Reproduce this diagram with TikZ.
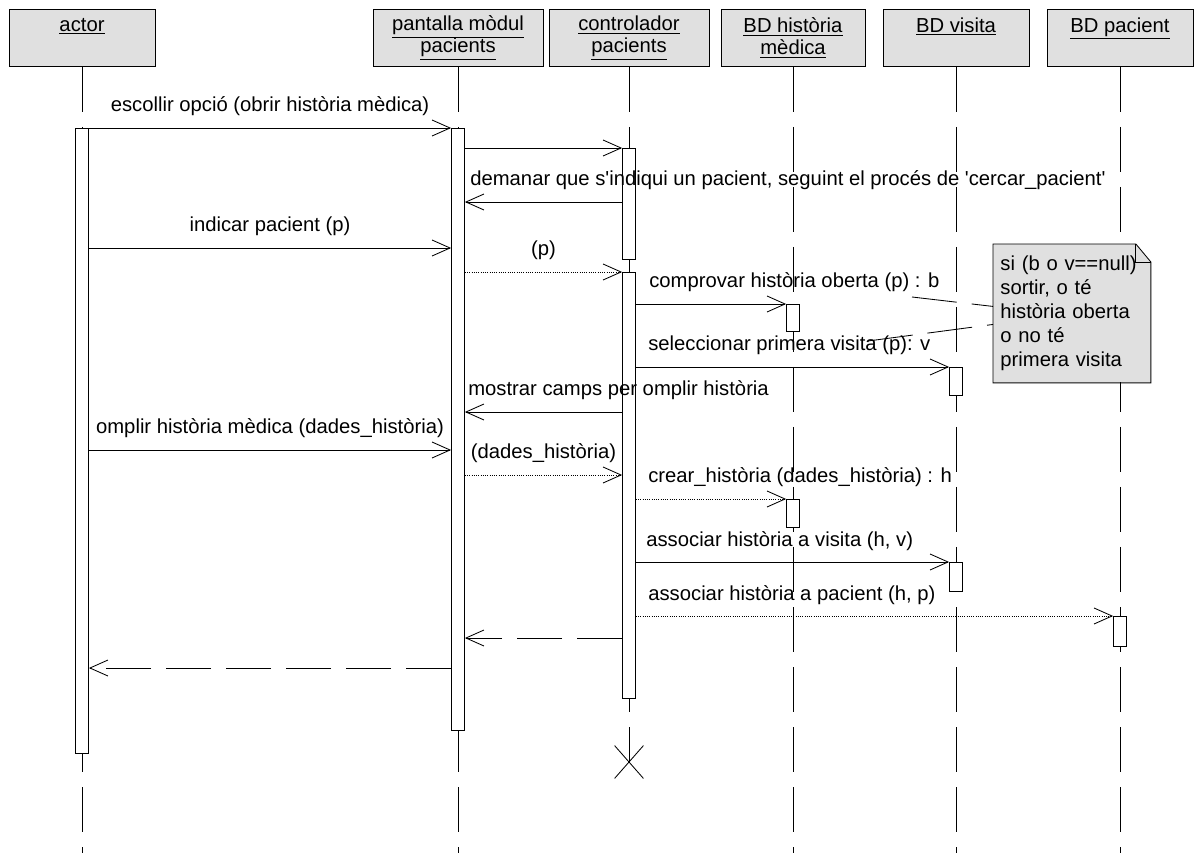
\documentclass[tikz,border=0pt]{standalone}
\usepackage{fontspec}
\setmainfont{Liberation Sans}
\usetikzlibrary{arrows.meta,positioning,shapes.misc}
\tikzstyle{Obj}=[shape=rectangle,draw=black,fill=black!12,align=center,anchor=north,minimum height=1.425cm,inner sep=2pt,font=\fontsize{14.4}{15.6}\selectfont]
\tikzstyle{Act}=[shape=rectangle,draw=black,fill=white,minimum width=0.325cm,anchor=north,inner sep=0pt]
\tikzstyle{life}=[dash pattern=on 1.125cm off 0.375cm]
\tikzstyle{call}=[-{Straight Barb[length=0.45cm,width=0.4cm]}]
\tikzstyle{dotcall}=[call,densely dotted]
\tikzstyle{ret}=[call,dash pattern=on 1.125cm off 0.375cm]
\tikzstyle{lab}=[anchor=base,yshift=0.4cm,inner sep=0pt,font=\fontsize{14.4}{17}\selectfont]
\tikzstyle{labL}=[lab,anchor=base west]

\begin{document}
\begin{tikzpicture}[x=0.025cm,y=-0.025cm,line width=0.6pt]
\useasboundingbox (0,0) rectangle (1201,853);

% objects
\node[Obj,minimum width=3.65cm] (actor) at (82,9) {\underline{actor}\\\phantom{p}};
\node[Obj,minimum width=4.25cm] (pant) at (458,9) {\underline{pantalla mòdul}\\\underline{pacients}};
\node[Obj,minimum width=4cm] (ctrl) at (629,9) {\underline{controlador}\\\underline{pacients}};
\node[Obj,minimum width=3.6cm] (hist) at (793,9) {\underline{BD història}\\\underline{mèdica}};
\node[Obj,minimum width=3.65cm] (vis) at (956,9) {\underline{BD visita}\\\phantom{p}};
\node[Obj,minimum width=3.65cm] (pac) at (1120,9) {\underline{BD pacient}\\\phantom{p}};

% message rows
\foreach \n/\y in {1/128,2/148,3/202,4/248,5/272,6/304,7/367,8/412,9/450,10/475,11/499,12/562,13/616,14/638,15/668,16/762}
  \coordinate (r\n) at (0,\y);
\coordinate (bot) at (0,853);

% lifelines
\foreach \o in {actor,pant,hist,vis,pac}
  \draw[life] (\o.south) -- (\o.south |- bot);
\node[cross out,draw,minimum width=0.7cm,minimum height=0.8cm,inner sep=0pt] (ctrlend) at (ctrl.south |- r16) {};
\draw[life] (ctrl.south) -- (ctrlend.center);

% activations
\node[Act,minimum height=15.625cm] (actbar) at (actor.south |- r1) {};
\node[Act,minimum height=15.05cm] (pantbar) at (pant.south |- r1) {};
\node[Act,minimum height=2.775cm] (ctrlbarA) at (ctrl.south |- r2) {};
\node[Act,minimum height=10.65cm] (ctrlbarB) at (ctrl.south |- r5) {};
\node[Act,minimum height=0.675cm] (histbarA) at (hist.south |- r6) {};
\node[Act,minimum height=0.7cm] (visbarA) at (vis.south |- r7) {};
\node[Act,minimum height=0.7cm] (histbarB) at (hist.south |- r11) {};
\node[Act,minimum height=0.725cm] (visbarB) at (vis.south |- r12) {};
\node[Act,minimum height=0.75cm] (pacbar) at (pac.south |- r13) {};

\path
(actbar.east |- r1) edge[call] node[lab] {escollir opció (obrir història mèdica)} (pantbar.west |- r1)
(pantbar.east |- r2) edge[call] (ctrlbarA.west |- r2)
(ctrlbarA.west |- r3) edge[call] node[labL,pos=1,xshift=0.125cm] {demanar que s\textquotesingle indiqui un pacient, seguint el procés de \textquotesingle cercar\_pacient\textquotesingle} (pantbar.east |- r3)
(actbar.east |- r4) edge[call] node[lab] {indicar pacient (p)} (pantbar.west |- r4)
(pantbar.east |- r5) edge[dotcall] node[lab] {(p)} (ctrlbarB.west |- r5)
(ctrlbarB.east |- r6) edge[call] node[labL,pos=0,xshift=0.325cm] {comprovar història oberta (p) : b} (histbarA.west |- r6)
(ctrlbarB.east |- r7) edge[call] node[labL,pos=0,xshift=0.3cm] {seleccionar primera visita (p): v} (visbarA.west |- r7)
(ctrlbarB.west |- r8) edge[call] node[labL,pos=1,xshift=0.075cm] {mostrar camps per omplir història} (pantbar.east |- r8)
(actbar.east |- r9) edge[call] node[lab] {omplir història mèdica (dades\_història)} (pantbar.west |- r9)
(pantbar.east |- r10) edge[dotcall] node[lab] {(dades\_història)} (ctrlbarB.west |- r10)
(ctrlbarB.east |- r11) edge[dotcall] node[labL,pos=0,xshift=0.3cm] {crear\_història (dades\_història) : h} (histbarB.west |- r11)
(ctrlbarB.east |- r12) edge[call] node[labL,pos=0,xshift=0.25cm] {associar història a visita (h, v)} (visbarB.west |- r12)
(ctrlbarB.east |- r13) edge[dotcall] node[labL,pos=0,xshift=0.3cm] {associar història a pacient (h, p)} (pacbar.west |- r13)
(ctrlbarB.west |- r14) edge[ret] (pantbar.east |- r14)
(pantbar.west |- r15) edge[ret] (actbar.east |- r15);

% note
\node[shape=rectangle,fill=black!12,anchor=north west,minimum width=3.925cm,minimum height=3.45cm,text width=3.575cm,align=left,inner xsep=0.175cm,inner ysep=0pt,font=\fontsize{14.4}{17}\selectfont] (note) at (993,244) {si (b o v==null)\\sortir, o té\\història oberta\\o no té\\primera visita};
\fill[white] ([xshift=-0.375cm]note.north east) -- (note.north east) -- ([yshift=-0.45cm]note.north east) -- cycle;
\draw (note.north west) -- ([xshift=-0.375cm]note.north east) -- ([yshift=-0.45cm]note.north east) -- (note.south east) -- (note.south west) -- cycle;
\draw ([xshift=-0.375cm]note.north east) |- ([yshift=-0.45cm]note.north east);
\coordinate (nb) at (912,297);
\coordinate (nv) at (868,341);
\draw[life] (nb) -- ([yshift=0.175cm]note.west);
\draw[life] (nv) -- ([yshift=-0.275cm]note.west);

\end{tikzpicture}
\end{document}
